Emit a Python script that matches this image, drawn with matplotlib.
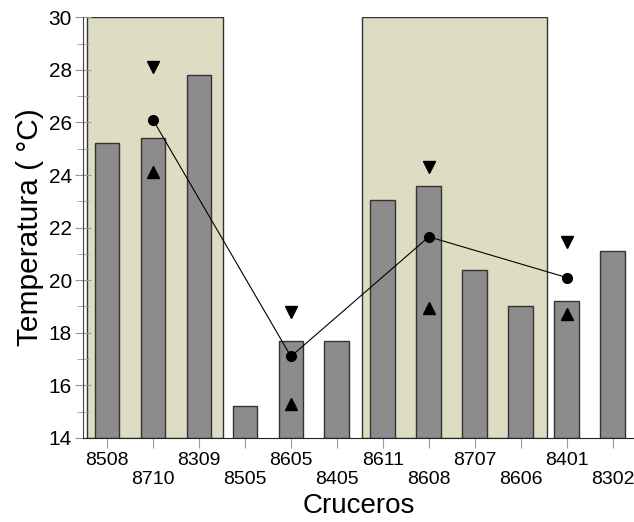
import matplotlib.pyplot as plt
import numpy as np

plt.rcParams['font.family'] = ['Liberation Sans', 'DejaVu Sans']

# cruise codes and mean temperature per cruise
cruceros = ['8508', '8710', '8309', '8505', '8605', '8405',
            '8611', '8608', '8707', '8606', '8401', '8302']
temperatura = [25.2, 25.4, 27.8, 15.2, 17.7, 17.7,
               23.05, 23.6, 20.4, 19.0, 19.2, 21.1]

# cruises with mean / max / min markers
idx_marcas = [1, 4, 7, 10]
media = [26.1, 17.1, 21.65, 20.1]
maximo = [28.1, 18.8, 24.3, 21.45]
minimo = [24.1, 15.3, 18.95, 18.7]

# shaded periods (in category units)
periodos = [(-0.43, 2.52), (5.54, 9.57)]

fig = plt.figure(figsize=(6.34, 5.22), dpi=100)
ax = fig.add_axes([0.131, 0.161, 0.869, 0.806])

x = np.arange(len(cruceros))

for x0, x1 in periodos:
    ax.axvspan(x0, x1, ymin=0, ymax=1, facecolor='#DEDDC3',
               edgecolor='#333333', linewidth=1.0, zorder=0)

ax.bar(x, np.array(temperatura) - 14, bottom=14, width=0.54,
       color='#8C8C8C', edgecolor='#333333', linewidth=1.0, zorder=2)

ax.plot(idx_marcas, media, color='black', linewidth=0.8, marker='o',
        markersize=7, zorder=4)
ax.plot(idx_marcas, maximo, linestyle='none', marker='v', color='black',
        markersize=8, zorder=4)
ax.plot(idx_marcas, minimo, linestyle='none', marker='^', color='black',
        markersize=8, zorder=4)

ax.set_xlim(-0.52, 11.46)
ax.set_ylim(14, 30)

ax.set_yticks(np.arange(14, 31, 2))
ax.set_yticks(np.arange(15, 30, 2), minor=True)
ax.tick_params(axis='y', which='major', direction='inout', length=12,
               color='#999999', labelsize=15, pad=2)
ax.tick_params(axis='y', which='minor', direction='inout', length=8,
               color='#999999')

ax.set_xticks(x)
labels = [c if i % 2 == 0 else '\n' + c for i, c in enumerate(cruceros)]
ax.set_xticklabels(labels)
ax.tick_params(axis='x', direction='out', length=7, color='#999999',
               labelsize=14, pad=3)
for lab in ax.get_xticklabels():
    lab.set_linespacing(1.2)

for s in ['top', 'right']:
    ax.spines[s].set_visible(False)
ax.spines['left'].set_color('#444444')
ax.spines['bottom'].set_color('#222222')

ax.set_xlabel('Cruceros', fontsize=20, labelpad=3)
ax.set_ylabel('Temperatura ( °C)', fontsize=21.5, labelpad=3)

fig.savefig('out.png', dpi=100)
